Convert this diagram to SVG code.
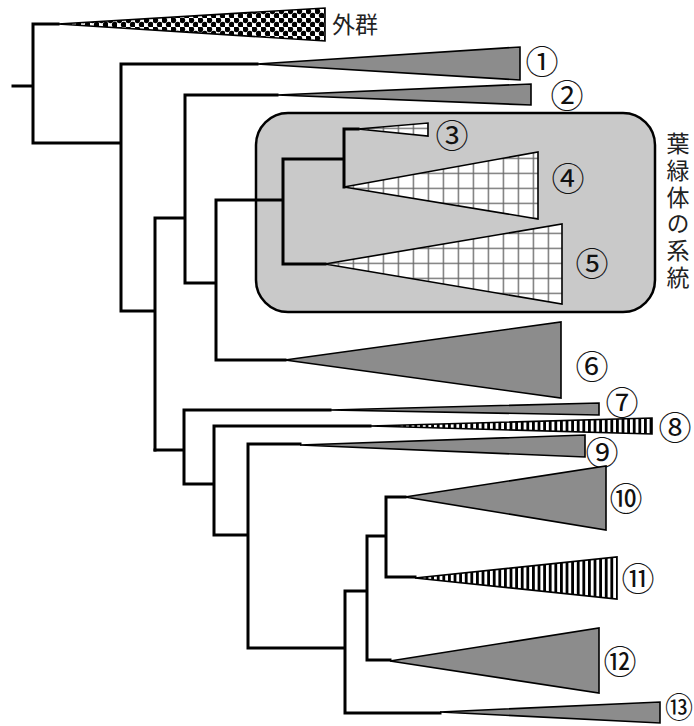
<svg xmlns="http://www.w3.org/2000/svg" width="694" height="726" viewBox="0 0 694 726">
<style>
.br{fill:none;stroke:#000;stroke-width:3;stroke-linecap:square;stroke-linejoin:miter}
.tri{stroke:#000;stroke-width:1.6;stroke-linejoin:miter}
.gray{fill:#8c8c8c}
.num{font-family:"Noto Sans CJK JP","DejaVu Sans",sans-serif;font-size:33px;fill:#111;text-anchor:middle;dominant-baseline:central}
.lbl{font-family:"Noto Sans CJK JP",sans-serif;fill:#222}
</style>
<defs>
<pattern id="grid" patternUnits="userSpaceOnUse" x="7.7" y="7.7" width="15" height="15">
<rect width="15" height="15" fill="#fff"/>
<path d="M0 0.6H15M0.6 0V15" stroke="#666" stroke-width="1.4"/>
</pattern>
<pattern id="stripe" patternUnits="userSpaceOnUse" width="5.6" height="10">
<rect width="5.6" height="10" fill="#fff"/>
<rect width="2.8" height="10" fill="#000"/>
</pattern>
<pattern id="dots" patternUnits="userSpaceOnUse" width="9" height="9">
<rect width="9" height="9" fill="#fff"/>
<circle cx="2.25" cy="2.25" r="2.9" fill="#000"/>
<circle cx="6.75" cy="6.75" r="2.9" fill="#000"/>
</pattern>
</defs>
<rect width="694" height="726" fill="#fff"/>
<g id="chloroplast-box">
<rect x="256" y="113" width="399" height="199" rx="32" fill="#c9c9c9" stroke="#000" stroke-width="2.5"/>
<text class="lbl" x="678" y="132" font-size="23" writing-mode="tb" letter-spacing="3.7">葉緑体の系統</text>
</g>
<g id="connectors">
<path class="br" d="M13 86H33M33 24V143M33 24H58M33 143H121M121 64V311M121 64H257M121 311H155M155 218V450M155 218H185M185 95V283M185 95H277M185 283H216M216 200V360M216 200H283M283 159V264M283 159H344M344 129V187M344 129H358M283 264H325M216 360H285"/>
<path class="br" d="M155 450H184M184 410V484M184 410H330M184 484H214M214 426V535M214 426H370M214 535H248M248 444V648M248 444H300M248 648H345M345 591V713M345 713H440M345 591H367M367 536V660M367 536H386M386 497V577M386 497H405M386 577H415M367 660H390"/>
</g>
<g id="outgroup">
<polygon class="tri" points="58,24 325,8 325,41" fill="url(#dots)"/>
<text class="lbl" x="332" y="33" font-size="23">外群</text>
</g>
<g id="clade1">
<polygon class="tri gray" points="257,64 520,47 520,80"/>
<text class="num" x="542" y="60">①</text>
</g>
<g id="clade2">
<polygon class="tri gray" points="277,95 531,84 531,105"/>
<text class="num" x="567" y="94">②</text>
</g>
<g id="clade3">
<polygon class="tri" points="358,129 428,123 428,136" fill="url(#grid)"/>
<text class="num" x="452" y="134">③</text>
</g>
<g id="clade4">
<polygon class="tri" points="344,187 538,152 538,219" fill="url(#grid)"/>
<text class="num" x="568" y="177">④</text>
</g>
<g id="clade5">
<polygon class="tri" points="325,264 562,224 562,304" fill="url(#grid)"/>
<text class="num" x="592" y="262">⑤</text>
</g>
<g id="clade6">
<polygon class="tri gray" points="285,360 561,322 561,398"/>
<text class="num" x="592" y="365">⑥</text>
</g>
<g id="clade7">
<polygon class="tri gray" points="330,410 599,403 599,415"/>
<text class="num" x="622" y="401">⑦</text>
</g>
<g id="clade8">
<polygon class="tri" points="370,426 652,418 652,434" fill="url(#stripe)"/>
<text class="num" x="675" y="426">⑧</text>
</g>
<g id="clade9">
<polygon class="tri gray" points="300,445 585,435 585,457"/>
<text class="num" x="602" y="451">⑨</text>
</g>
<g id="clade10">
<polygon class="tri gray" points="405,497 606,466 606,530"/>
<text class="num" x="626" y="497">⑩</text>
</g>
<g id="clade11">
<polygon class="tri" points="415,578 617,557 617,599" fill="url(#stripe)"/>
<text class="num" x="638" y="577">⑪</text>
</g>
<g id="clade12">
<polygon class="tri gray" points="390,661 599,628 599,693"/>
<text class="num" x="620" y="660">⑫</text>
</g>
<g id="clade13">
<polygon class="tri gray" points="440,712 660,702 660,723"/>
<text class="num" x="679" y="706" style="font-size:28px">⑬</text>
</g>
</svg>
